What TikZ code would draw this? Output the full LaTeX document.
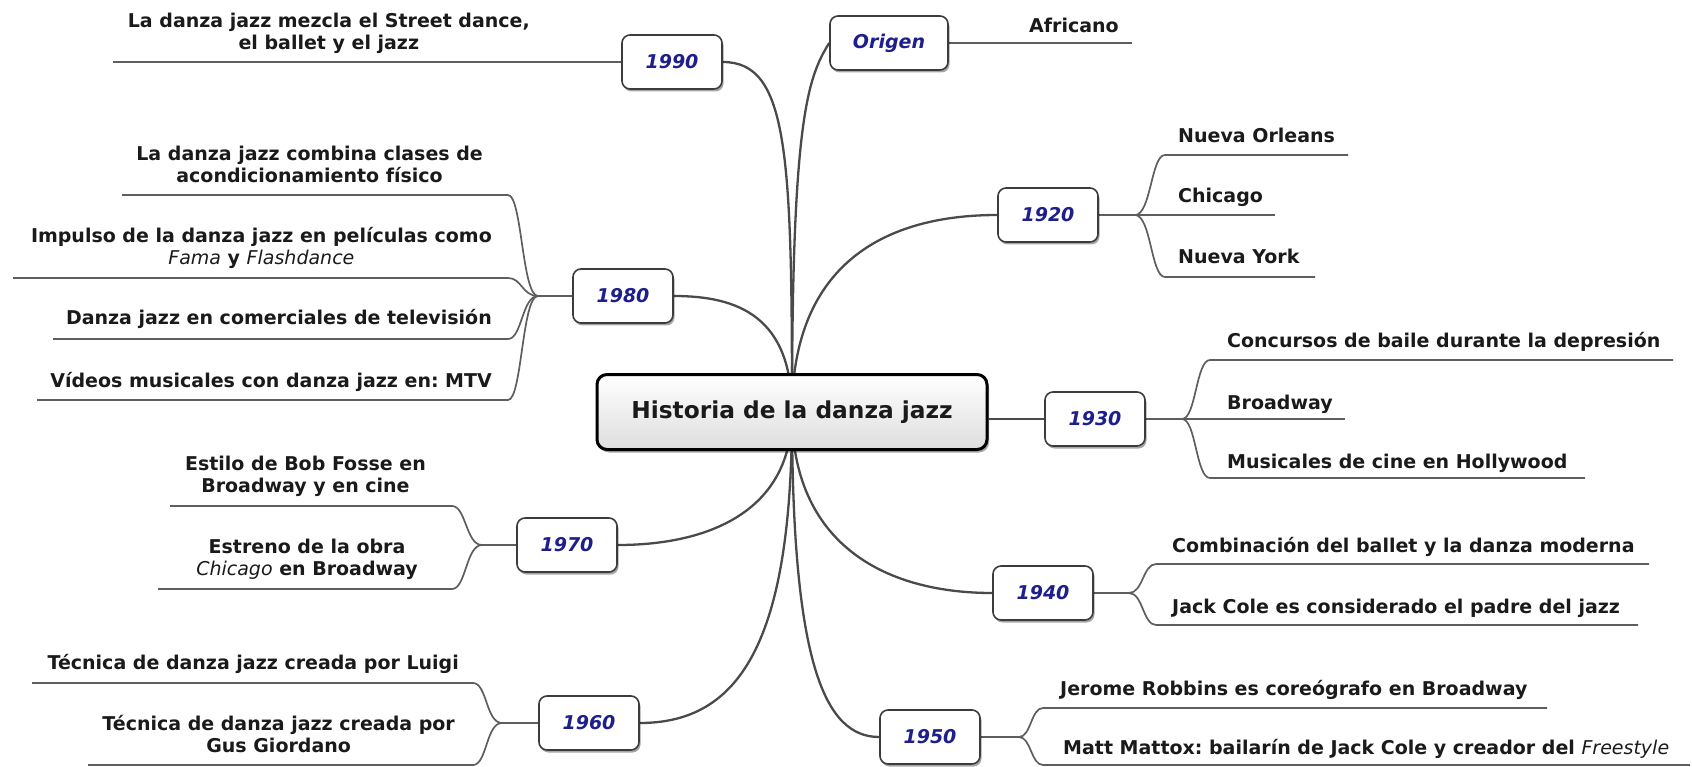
\documentclass[tikz,border=0pt]{standalone}
\usepackage{fontspec}
\setmainfont{DejaVu Sans}
\usetikzlibrary{shadows,backgrounds}
\frenchspacing
\definecolor{navy}{HTML}{1E1E8C}
\definecolor{linec}{HTML}{4A4A4A}
\definecolor{ulc}{HTML}{5E5E5E}
\definecolor{txt}{HTML}{1A1A1A}
\definecolor{boxc}{HTML}{3C3C3C}
\newcommand\itemfont{\fontsize{19}{22}\selectfont\bfseries}
\newcommand\yearfont{\fontsize{19}{24}\selectfont\bfseries\itshape}
\newcommand\ital[1]{{\mdseries\itshape #1}}
\begin{document}
\begin{tikzpicture}[x=1pt,y=-1pt,
  hub/.style={draw=black, line width=3pt, rounded corners=10pt, top color=white, bottom color=black!13,
    minimum width=390pt, minimum height=75pt, font=\fontsize{23.3}{28}\selectfont\bfseries, text=txt,
    drop shadow={shadow xshift=2pt, shadow yshift=-3pt, fill=black, opacity=0.35}},
  year/.style={draw=boxc, line width=1.6pt, rounded corners=8pt, fill=white,
    minimum width=100pt, minimum height=54pt, font=\yearfont, text=navy,
    drop shadow={shadow xshift=1.5pt, shadow yshift=-2.5pt, fill=black, opacity=0.35}},
  link/.style={draw=linec, line width=2.3pt},
  uline/.style={draw=ulc, line width=1.7pt},
  ritem/.style={font=\itemfont, text=txt, inner sep=0pt, anchor=base west},
  litem/.style={font=\itemfont, text=txt, inner sep=0pt, anchor=base east, align=center}]
\useasboundingbox (0,0) rectangle (1692,767);

% main and year nodes
\node[hub] (ctr) at (792,412) {Historia de la danza jazz};
\node[year, minimum width=118pt] (orig) at (889,43) {Origen};
\node[year] (y1990) at (672,62) {1990};
\node[year] (y1920) at (1048,215) {1920};
\node[year] (y1930) at (1095,419) {1930};
\node[year] (y1940) at (1043,593) {1940};
\node[year] (y1950) at (930,737) {1950};
\node[year] (y1960) at (589,723) {1960};
\node[year] (y1970) at (567,545) {1970};
\node[year] (y1980) at (623,296) {1980};

% fork points
\coordinate (f1920) at (1135,215);
\coordinate (f1930) at (1182,419);
\coordinate (f1940) at (1129,593);
\coordinate (f1950) at (1019,737);
\coordinate (f1960) at (502,723);
\coordinate (f1970) at (482,545);
\coordinate (f1980) at (538,296);

% right side items
\node[ritem] (afr) at (1029,33) {Africano};
\node[ritem] (no) at (1178,143) {Nueva Orleans};
\node[ritem] (chi) at (1178,203) {Chicago};
\node[ritem] (ny) at (1178,264) {Nueva York};
\node[ritem] (con) at (1227,347) {Concursos de baile durante la depresión};
\node[ritem] (bro) at (1227,409) {Broadway};
\node[ritem] (mus) at (1227,468) {Musicales de cine en Hollywood};
\node[ritem] (comb) at (1172,552) {Combinación del ballet y la danza moderna};
\node[ritem] (jack) at (1172,613) {Jack Cole es considerado el padre del jazz};
\node[ritem] (jer) at (1060,695) {Jerome Robbins es coreógrafo en Broadway};
\node[ritem] (matt) at (1063,754) {Matt Mattox: bailarín de Jack Cole y creador del \ital{Freestyle}};

% left side items (anchor = baseline of last line)
\node[litem] (mez) at (530,50) {La danza jazz mezcla el Street dance,\\el ballet y el jazz};
\node[litem] (acon) at (483,183) {La danza jazz combina clases de\\acondicionamiento físico};
\node[litem] (imp) at (492,265) {Impulso de la danza jazz en películas como\\\ital{Fama} y \ital{Flashdance}};
\node[litem] (tv) at (492,325) {Danza jazz en comerciales de televisión};
\node[litem] (mtv) at (492,387) {Vídeos musicales con danza jazz en: MTV};
\node[litem] (fos) at (426,492) {Estilo de Bob Fosse en\\Broadway y en cine};
\node[litem] (est) at (418,575) {Estreno de la obra\\\ital{Chicago} en Broadway};
\node[litem] (lui) at (459,669) {Técnica de danza jazz creada por Luigi};
\node[litem] (gus) at (455,752) {Técnica de danza jazz creada por\\Gus Giordano};

\begin{scope}[on background layer]
  % main links
  \draw[link] (ctr.center) .. controls +(0,-290) and +(-22,35) .. (orig.west);
  \draw[link] (ctr.center) .. controls +(0,-260) and +(65,0) .. (y1990.east);
  \draw[link] (ctr.center) .. controls +(0,-150) and +(-110,0) .. (y1920.west);
  \draw[link] (ctr.center) .. controls +(0,-95) and +(65,0) .. (y1980.east);
  \draw[link] (y1930.west) -- (y1930.west -| ctr.east);
  \draw[link] (ctr.center) .. controls +(0,130) and +(-110,0) .. (y1940.west);
  \draw[link] (ctr.center) .. controls +(0,100) and +(90,0) .. (y1970.east);
  \draw[link] (ctr.center) .. controls +(0,230) and +(100,0) .. (y1960.east);
  \draw[link] (ctr.center) .. controls +(0,250) and +(-55,0) .. (y1950.west);
  % year to fork
  \draw[uline] (orig.east) -- (1132,43);
  \draw[uline] (y1990.west) -- (113,62);
  \draw[uline] (y1920.east) -- (f1920);
  \draw[uline] (y1930.east) -- (f1930);
  \draw[uline] (y1940.east) -- (f1940);
  \draw[uline] (y1950.east) -- (f1950);
  \draw[uline] (y1960.west) -- (f1960);
  \draw[uline] (y1970.west) -- (f1970);
  \draw[uline] (y1980.west) -- (f1980);
  % right branches
  \draw[uline] (f1920) .. controls +(16,0) and +(-14,0) .. (1165,155) -- (1348,155);
  \draw[uline] (f1920) -- (1275,215);
  \draw[uline] (f1920) .. controls +(16,0) and +(-14,0) .. (1165,277) -- (1315,277);
  \draw[uline] (f1930) .. controls +(14,0) and +(-14,0) .. (1210,360) -- (1673,360);
  \draw[uline] (f1930) -- (1345,419);
  \draw[uline] (f1930) .. controls +(14,0) and +(-14,0) .. (1210,478) -- (1585,478);
  \draw[uline] (f1940) .. controls +(14,0) and +(-13,0) .. (1156,564) -- (1649,564);
  \draw[uline] (f1940) .. controls +(14,0) and +(-13,0) .. (1156,625) -- (1638,625);
  \draw[uline] (f1950) .. controls +(12,0) and +(-12,0) .. (1043,708) -- (1547,708);
  \draw[uline] (f1950) .. controls +(12,0) and +(-12,0) .. (1043,765) -- (1690,765);
  % left branches
  \draw[uline] (f1980) .. controls +(-16,0) and +(14,0) .. (508,195) -- (122,195);
  \draw[uline] (f1980) .. controls +(-16,0) and +(14,0) .. (508,278) -- (13,278);
  \draw[uline] (f1980) .. controls +(-16,0) and +(14,0) .. (508,339) -- (53,339);
  \draw[uline] (f1980) .. controls +(-16,0) and +(14,0) .. (508,400) -- (37,400);
  \draw[uline] (f1970) .. controls +(-16,0) and +(14,0) .. (452,506) -- (170,506);
  \draw[uline] (f1970) .. controls +(-16,0) and +(14,0) .. (452,589) -- (158,589);
  \draw[uline] (f1960) .. controls +(-16,0) and +(14,0) .. (473,683) -- (32,683);
  \draw[uline] (f1960) .. controls +(-16,0) and +(14,0) .. (473,765) -- (88,765);
\end{scope}
\end{tikzpicture}
\end{document}
